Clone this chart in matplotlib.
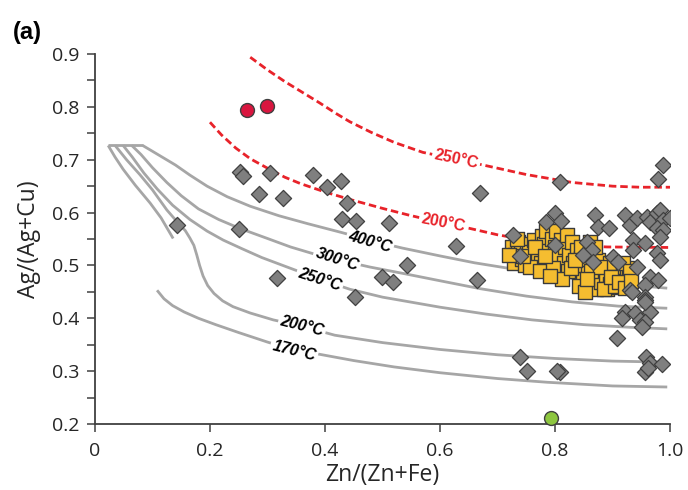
import matplotlib
matplotlib.use("Agg")
import matplotlib.pyplot as plt

plt.rcParams["font.family"] = ["Open Sans", "DejaVu Sans"]

# isothermes grises (Zn/(Zn+Fe), Ag/(Ag+Cu))
top_x = [0.023, 0.083]
top_y = [0.727, 0.727]

iso400_x = [0.083, 0.10, 0.12, 0.14, 0.165, 0.195, 0.23, 0.27, 0.32, 0.37, 0.43, 0.48,
            0.534, 0.6, 0.66, 0.717, 0.78, 0.85, 0.92, 0.995]
iso400_y = [0.727, 0.716, 0.703, 0.690, 0.671, 0.650, 0.630, 0.612, 0.594, 0.579, 0.562,
            0.547, 0.533, 0.518, 0.505, 0.495, 0.484, 0.473, 0.464, 0.457]

iso300_x = [0.064, 0.08, 0.10, 0.125, 0.15, 0.18, 0.215, 0.252, 0.30, 0.34, 0.38, 0.421,
            0.478, 0.54, 0.6, 0.67, 0.75, 0.83, 0.91, 0.995]
iso300_y = [0.727, 0.71, 0.685, 0.657, 0.632, 0.607, 0.587, 0.570, 0.551, 0.535, 0.522,
            0.511, 0.497, 0.484, 0.471, 0.456, 0.442, 0.431, 0.423, 0.419]

iso250_x = [0.049, 0.065, 0.085, 0.108, 0.135, 0.165, 0.195, 0.223, 0.255, 0.29, 0.339,
            0.391, 0.443, 0.5, 0.6, 0.68, 0.76, 0.85, 0.93, 0.995]
iso250_y = [0.727, 0.705, 0.675, 0.645, 0.614, 0.587, 0.565, 0.548, 0.532, 0.515, 0.495,
            0.474, 0.455, 0.440, 0.421, 0.408, 0.397, 0.388, 0.383, 0.380]

iso200_x = [0.035, 0.055, 0.078, 0.10, 0.125, 0.145, 0.157, 0.165, 0.172, 0.177, 0.182,
            0.188, 0.196, 0.207, 0.222, 0.24, 0.27, 0.31, 0.36, 0.417, 0.5, 0.6, 0.7,
            0.8, 0.9, 0.995]
iso200_y = [0.727, 0.70, 0.672, 0.643, 0.605, 0.580, 0.566, 0.552, 0.538, 0.52, 0.50,
            0.48, 0.462, 0.447, 0.433, 0.422, 0.410, 0.397, 0.385, 0.368, 0.354, 0.341,
            0.331, 0.324, 0.319, 0.317]

isoA_x = [0.023, 0.035, 0.049, 0.07, 0.096, 0.115, 0.136]
isoA_y = [0.727, 0.705, 0.682, 0.652, 0.618, 0.59, 0.551]

iso170_x = [0.108, 0.12, 0.135, 0.155, 0.18, 0.21, 0.25, 0.30, 0.346, 0.39, 0.45, 0.52,
            0.6, 0.7, 0.786, 0.9, 0.995]
iso170_y = [0.453, 0.437, 0.424, 0.412, 0.400, 0.388, 0.373, 0.355, 0.340, 0.332, 0.320,
            0.308, 0.297, 0.286, 0.279, 0.272, 0.270]

# isothermes rouges
red250_x = [0.27, 0.30, 0.33, 0.357, 0.39, 0.42, 0.443, 0.48, 0.52, 0.57, 0.628, 0.675,
            0.75, 0.83, 0.9, 0.948, 1.0]
red250_y = [0.894, 0.870, 0.848, 0.830, 0.808, 0.787, 0.772, 0.752, 0.733, 0.714, 0.701,
            0.690, 0.672, 0.657, 0.650, 0.648, 0.648]
red200_x = [0.2, 0.22, 0.245, 0.27, 0.30, 0.33, 0.357, 0.4, 0.443, 0.5, 0.543, 0.605,
            0.652, 0.7, 0.774, 0.83, 0.89, 1.0]
red200_y = [0.771, 0.747, 0.722, 0.702, 0.684, 0.667, 0.655, 0.639, 0.625, 0.608, 0.596,
            0.580, 0.570, 0.558, 0.544, 0.538, 0.535, 0.534]

# étiquettes (texte, x, y, rotation)
grey_labels = [("400°C", 0.478, 0.544, -16), ("300°C", 0.421, 0.512, -18),
               ("250°C", 0.391, 0.474, -18), ("200°C", 0.36, 0.385, -14),
               ("170°C", 0.346, 0.338, -14)]
red_labels = [("250°C", 0.628, 0.701, -12), ("200°C", 0.605, 0.580, -11)]

# losanges gris
diam_x = [0.252, 0.257, 0.304, 0.379, 0.403, 0.428, 0.285, 0.327, 0.438, 0.43, 0.454,
          0.511, 0.143, 0.25, 0.316, 0.499, 0.452, 0.67, 0.628, 0.542, 0.518, 0.664,
          0.809, 0.988, 0.979, 0.80, 0.784, 0.81, 0.727, 0.739, 0.80, 0.855, 0.864,
          0.849, 0.866, 0.87, 0.875, 0.893, 0.90, 0.909, 0.942, 0.921, 0.93, 0.942,
          0.96, 0.965, 0.977, 0.983, 0.988, 1.0, 0.977, 0.988, 0.936, 0.957, 0.983,
          0.936, 0.977, 0.983, 0.965, 0.979, 0.957, 0.93, 0.957, 0.934, 0.957, 0.922,
          0.917, 0.939, 0.965, 0.948, 0.957, 0.951, 0.908, 0.958, 0.965, 0.986,
          0.957, 0.962, 0.809, 0.739, 0.751, 0.803, 0.957]
diam_y = [0.676, 0.670, 0.674, 0.672, 0.648, 0.659, 0.635, 0.627, 0.618, 0.588, 0.584,
          0.580, 0.576, 0.569, 0.476, 0.478, 0.44, 0.637, 0.537, 0.50, 0.469, 0.472,
          0.657, 0.69, 0.663, 0.599, 0.582, 0.584, 0.557, 0.518, 0.538, 0.544, 0.529,
          0.519, 0.506, 0.595, 0.572, 0.571, 0.516, 0.506, 0.497, 0.595, 0.576, 0.589,
          0.591, 0.582, 0.599, 0.605, 0.586, 0.589, 0.571, 0.567, 0.548, 0.542, 0.554,
          0.529, 0.523, 0.51, 0.478, 0.472, 0.463, 0.453, 0.44, 0.45, 0.434, 0.412,
          0.40, 0.41, 0.412, 0.397, 0.393, 0.383, 0.362, 0.327, 0.315, 0.313,
          0.298, 0.306, 0.298, 0.327, 0.30, 0.30, 0.431]

# carrés jaunes
sq_x = [0.725, 0.73, 0.728, 0.735, 0.74, 0.742, 0.748, 0.752, 0.755, 0.76, 0.763, 0.768,
        0.77, 0.775, 0.778, 0.78, 0.785, 0.788, 0.79, 0.795, 0.80, 0.802, 0.805, 0.81,
        0.815, 0.818, 0.82, 0.825, 0.83, 0.832, 0.838, 0.84, 0.845, 0.848, 0.85, 0.855,
        0.858, 0.86, 0.865, 0.868, 0.872, 0.875, 0.88, 0.882, 0.888, 0.89, 0.895, 0.90,
        0.902, 0.908, 0.91, 0.915, 0.92, 0.925, 0.928, 0.875, 0.895, 0.845, 0.86, 0.87,
        0.72, 0.733, 0.757, 0.773, 0.797, 0.823, 0.842, 0.852, 0.862, 0.885, 0.905,
        0.918, 0.93, 0.812, 0.792, 0.745, 0.765, 0.783, 0.828, 0.835, 0.878, 0.898,
        0.912, 0.922, 0.932, 0.855]
sq_y = [0.535, 0.52, 0.505, 0.545, 0.53, 0.512, 0.50, 0.54, 0.525, 0.51, 0.548, 0.535,
        0.52, 0.505, 0.555, 0.54, 0.565, 0.527, 0.51, 0.55, 0.535, 0.565, 0.52, 0.548,
        0.505, 0.535, 0.558, 0.52, 0.545, 0.505, 0.53, 0.49, 0.515, 0.475, 0.50, 0.46,
        0.485, 0.52, 0.47, 0.50, 0.455, 0.485, 0.468, 0.50, 0.48, 0.455, 0.465, 0.49,
        0.475, 0.46, 0.50, 0.485, 0.47, 0.495, 0.48, 0.51, 0.505, 0.535, 0.545, 0.535,
        0.52, 0.55, 0.497, 0.49, 0.495, 0.49, 0.462, 0.45, 0.49, 0.455, 0.462,
        0.505, 0.49, 0.475, 0.48, 0.518, 0.535, 0.518, 0.495, 0.51, 0.497, 0.478,
        0.468, 0.458, 0.47, 0.475]

red_pts_x = [0.264, 0.30]
red_pts_y = [0.795, 0.801]
green_x = [0.793]
green_y = [0.211]

fig = plt.figure(figsize=(6.88, 4.9), dpi=100)
ax = fig.add_axes([0.138, 0.1347, 0.836, 0.755])

grey = "#a6a6a6"
for cx, cy in [(top_x, top_y), (iso400_x, iso400_y), (iso300_x, iso300_y),
               (iso250_x, iso250_y), (iso200_x, iso200_y), (isoA_x, isoA_y),
               (iso170_x, iso170_y)]:
    ax.plot(cx, cy, color=grey, lw=2, zorder=1, solid_capstyle="butt",
            solid_joinstyle="round")

for cx, cy in [(red250_x, red250_y), (red200_x, red200_y)]:
    ax.plot(cx, cy, color="#e8232a", lw=2, ls=(0, (2.7, 1.4)), zorder=1)

for txt, x, y, r in grey_labels:
    ax.text(x, y, txt, rotation=r, ha="center", va="center", fontsize=11.5,
            fontweight="bold", style="italic", family=["Liberation Sans", "DejaVu Sans"],
            color="black", zorder=2,
            bbox=dict(facecolor="white", edgecolor="none", pad=1.5))
for txt, x, y, r in red_labels:
    ax.text(x, y, txt, rotation=r, ha="center", va="center", fontsize=11.5,
            fontweight="bold", family=["Liberation Sans", "DejaVu Sans"],
            color="#e8232a", zorder=2,
            bbox=dict(facecolor="white", edgecolor="none", pad=1.5))

ax.scatter(sq_x, sq_y, marker="s", s=95, facecolor="#f5bd30", edgecolor="#3a3a3a",
           linewidth=1, zorder=3)
ax.scatter(diam_x, diam_y, marker="D", s=68, facecolor="#7f7f7f", edgecolor="#404040",
           linewidth=0.9, zorder=4)
ax.scatter(red_pts_x, red_pts_y, marker="o", s=100, facecolor="#d9163f",
           edgecolor="#404040", linewidth=1, zorder=4)
ax.scatter(green_x, green_y, marker="o", s=100, facecolor="#8dc63f",
           edgecolor="#404040", linewidth=1, zorder=5, clip_on=False)

ax.set_xlim(0, 1.0)
ax.set_ylim(0.2, 0.9)
ax.set_xticks([0, 0.2, 0.4, 0.6, 0.8, 1.0])
ax.set_xticklabels(["0", "0.2", "0.4", "0.6", "0.8", "1.0"])
ax.set_yticks([0.2, 0.3, 0.4, 0.5, 0.6, 0.7, 0.8, 0.9])
ax.set_yticklabels(["0.2", "0.3", "0.4", "0.5", "0.6", "0.7", "0.8", "0.9"])
ax.set_yticks([0.25, 0.35, 0.45, 0.55, 0.65, 0.75, 0.85], minor=True)
for s in ["top", "right"]:
    ax.spines[s].set_visible(False)
for s in ["left", "bottom"]:
    ax.spines[s].set_color("#404040")
    ax.spines[s].set_linewidth(1.3)
ax.tick_params(which="both", direction="out", length=6, width=1.1, color="#404040",
               labelsize=14, labelcolor="#262626")
ax.tick_params(axis="x", pad=7)
ax.tick_params(axis="y", pad=5)

ax.set_xlabel("Zn/(Zn+Fe)", fontsize=16.5, color="#262626", labelpad=2)
ax.set_ylabel("Ag/(Ag+Cu)", fontsize=16.5, color="#262626", labelpad=8)
fig.text(0.018, 0.92, "(a)", fontsize=17, fontweight="bold",
         family=["Liberation Sans", "DejaVu Sans"])

fig.savefig("out.png", dpi=100)
